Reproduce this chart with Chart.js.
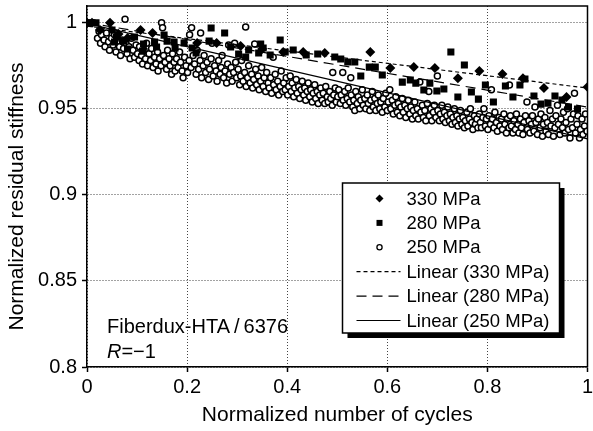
<!DOCTYPE html>
<html>
<head>
<meta charset="utf-8">
<script src="https://cdn.jsdelivr.net/npm/chart.js@4.4.1/dist/chart.umd.min.js"></script>
<style>
  html, body { margin: 0; padding: 0; background: #fff; overflow: hidden; }
  #wrap { width: 593px; height: 431px; position: relative; }
</style>
</head>
<body>
<div id="wrap"><canvas id="chart"></canvas></div>
<script>
// points: [normalized number of cycles, normalized residual stiffness]
var s330 = [
  [0, 1.0], [0.01, 1.0], [0.026, 0.9958], [0.046, 1.0], [0.063, 0.9934], [0.081, 0.9911],
  [0.107, 0.9958], [0.131, 0.994], [0.22, 0.9882], [0.259, 0.9882], [0.307, 0.9865],
  [0.35, 0.9847], [0.392, 0.983], [0.432, 0.983], [0.475, 0.9824], [0.566, 0.983],
  [0.606, 0.9737], [0.653, 0.9742], [0.695, 0.9737], [0.741, 0.9678], [0.784, 0.9719],
  [0.83, 0.9702], [0.871, 0.9678], [0.913, 0.962], [0.958, 0.9568], [1.0, 0.9626]
];
var s280 = [
  [0, 1.0], [0.01, 1.0], [0.018, 1.0], [0.05, 0.9958], [0.055, 0.9888], [0.059, 0.9917],
  [0.073, 0.9893], [0.081, 0.9847], [0.095, 0.9917], [0.111, 0.9835], [0.113, 0.9876],
  [0.135, 0.9888], [0.139, 0.9859], [0.154, 0.9928], [0.16, 0.9893], [0.174, 0.9888],
  [0.176, 0.9853], [0.194, 0.9882], [0.21, 0.9853], [0.218, 0.9824], [0.244, 0.9893],
  [0.248, 0.9969], [0.275, 0.994], [0.287, 0.9859], [0.303, 0.9818], [0.317, 0.9801],
  [0.323, 0.9841], [0.343, 0.9824], [0.347, 0.9876], [0.352, 0.9853], [0.366, 0.9812],
  [0.386, 0.9899], [0.396, 0.983], [0.412, 0.9841], [0.438, 0.9812], [0.461, 0.9818],
  [0.495, 0.9801], [0.507, 0.9789], [0.521, 0.9772], [0.535, 0.9772], [0.547, 0.969],
  [0.564, 0.9742], [0.576, 0.9742], [0.59, 0.9696], [0.63, 0.9655], [0.646, 0.9667],
  [0.657, 0.9649], [0.673, 0.9609], [0.685, 0.9649], [0.699, 0.9603], [0.713, 0.9615],
  [0.727, 0.983], [0.741, 0.9568], [0.754, 0.9754], [0.768, 0.9597], [0.782, 0.9556],
  [0.796, 0.9638], [0.812, 0.9539], [0.836, 0.9632], [0.851, 0.9568], [0.865, 0.9638],
  [0.875, 0.9673], [0.893, 0.9574], [0.907, 0.9527], [0.921, 0.9533], [0.935, 0.9574],
  [0.949, 0.9551], [0.962, 0.951], [0.98, 0.9499]
];
var s250 = [
  [0.021, 0.991], [0.024, 0.995], [0.027, 0.988], [0.029, 0.993], [0.034, 0.99], [0.036, 0.986],
  [0.039, 0.994], [0.043, 0.989], [0.045, 0.984], [0.049, 0.991], [0.052, 0.987], [0.055, 0.993],
  [0.058, 0.983], [0.06, 0.989], [0.065, 0.986], [0.067, 0.981], [0.07, 0.99], [0.073, 0.985],
  [0.076, 1.002], [0.078, 0.988], [0.08, 0.982], [0.084, 0.986], [0.086, 0.979], [0.089, 0.991],
  [0.092, 0.984], [0.095, 0.98], [0.098, 0.987],
  [0.101, 0.982], [0.104, 0.978], [0.105, 0.986], [0.109, 0.981], [0.111, 0.976], [0.114, 0.984],
  [0.117, 0.979], [0.119, 0.988], [0.121, 0.975], [0.124, 0.982], [0.127, 0.978], [0.129, 0.985],
  [0.132, 0.974], [0.135, 0.98], [0.138, 0.976], [0.141, 0.983], [0.142, 0.972], [0.145, 0.979],
  [0.148, 0.975], [0.149, 1.0], [0.151, 0.997], [0.153, 0.981], [0.156, 0.977], [0.159, 0.973],
  [0.161, 0.984], [0.164, 0.979], [0.166, 0.975], [0.169, 0.97], [0.171, 0.982], [0.174, 0.977],
  [0.176, 0.972], [0.179, 0.979], [0.182, 0.974], [0.185, 0.983], [0.187, 0.977], [0.19, 0.972],
  [0.192, 0.968], [0.195, 0.98], [0.198, 0.975],
  [0.201, 0.971], [0.204, 0.978], [0.205, 0.993], [0.208, 0.974], [0.209, 0.997], [0.212, 0.981],
  [0.215, 0.976], [0.218, 0.97], [0.22, 0.984], [0.223, 0.973], [0.226, 0.978], [0.227, 0.994],
  [0.229, 0.968], [0.232, 0.975], [0.234, 0.981], [0.237, 0.971], [0.24, 0.977], [0.243, 0.967],
  [0.245, 0.973], [0.248, 0.979], [0.25, 0.988], [0.252, 0.969], [0.255, 0.975], [0.258, 0.972],
  [0.26, 0.966], [0.263, 0.978], [0.266, 0.97], [0.268, 0.974], [0.27, 0.981], [0.273, 0.968],
  [0.276, 0.972], [0.279, 0.965], [0.281, 0.976], [0.283, 0.987], [0.285, 0.97], [0.288, 0.974],
  [0.29, 0.966], [0.293, 0.971], [0.295, 0.988], [0.297, 0.977], [0.299, 0.968],
  [0.302, 0.973], [0.305, 0.964], [0.307, 0.969], [0.309, 0.978], [0.312, 0.966], [0.315, 0.971],
  [0.317, 0.9975], [0.318, 0.963], [0.321, 0.968], [0.323, 0.975], [0.326, 0.965], [0.329, 0.97],
  [0.331, 0.962], [0.333, 0.967], [0.335, 0.9876], [0.337, 0.973], [0.339, 0.964], [0.342, 0.969],
  [0.344, 0.961], [0.347, 0.966], [0.349, 0.974], [0.352, 0.963], [0.354, 0.968], [0.357, 0.96],
  [0.359, 0.971], [0.362, 0.965], [0.364, 0.962], [0.367, 0.968], [0.369, 0.959], [0.372, 0.98],
  [0.373, 0.964], [0.376, 0.97], [0.378, 0.961], [0.381, 0.966], [0.383, 0.958], [0.386, 0.963],
  [0.388, 0.972], [0.391, 0.96], [0.393, 0.965], [0.396, 0.961], [0.398, 0.968],
  [0.401, 0.958], [0.403, 0.963], [0.406, 0.969], [0.408, 0.96], [0.41, 0.965], [0.413, 0.957],
  [0.415, 0.962], [0.418, 0.967], [0.42, 0.959], [0.423, 0.963], [0.425, 0.956], [0.428, 0.961],
  [0.43, 0.966], [0.433, 0.958], [0.435, 0.962], [0.437, 0.955], [0.44, 0.96], [0.442, 0.965],
  [0.445, 0.957], [0.447, 0.961], [0.45, 0.954], [0.452, 0.959], [0.455, 0.964], [0.457, 0.956],
  [0.46, 0.96], [0.462, 0.953], [0.465, 0.958], [0.467, 0.962], [0.47, 0.955], [0.472, 0.959],
  [0.475, 0.953], [0.477, 0.963], [0.48, 0.957], [0.482, 0.954], [0.485, 0.96], [0.487, 0.956],
  [0.49, 0.952], [0.491, 0.971], [0.493, 0.958], [0.496, 0.962], [0.498, 0.954],
  [0.501, 0.957], [0.503, 0.961], [0.506, 0.953], [0.508, 0.958], [0.511, 0.971], [0.512, 0.955],
  [0.515, 0.96], [0.517, 0.952], [0.52, 0.956], [0.522, 0.962], [0.525, 0.954], [0.527, 0.968],
  [0.528, 0.958], [0.531, 0.951], [0.533, 0.955], [0.535, 0.949], [0.537, 0.96], [0.54, 0.953],
  [0.542, 0.957], [0.545, 0.95], [0.547, 0.955], [0.55, 0.961], [0.552, 0.952], [0.555, 0.956],
  [0.557, 0.95], [0.56, 0.958], [0.562, 0.953], [0.565, 0.949], [0.567, 0.955], [0.57, 0.96],
  [0.572, 0.951], [0.575, 0.956], [0.577, 0.949], [0.58, 0.953], [0.582, 0.958], [0.585, 0.95],
  [0.587, 0.954], [0.59, 0.948], [0.592, 0.956], [0.595, 0.951], [0.597, 0.959],
  [0.6, 0.949], [0.602, 0.954], [0.605, 0.961], [0.607, 0.95], [0.61, 0.955], [0.612, 0.947],
  [0.615, 0.952], [0.617, 0.957], [0.62, 0.948], [0.622, 0.953], [0.625, 0.946], [0.627, 0.951],
  [0.63, 0.956], [0.632, 0.948], [0.635, 0.952], [0.637, 0.945], [0.64, 0.95], [0.642, 0.955],
  [0.645, 0.947], [0.647, 0.951], [0.65, 0.944], [0.652, 0.949], [0.655, 0.954], [0.657, 0.946],
  [0.66, 0.95], [0.662, 0.944], [0.665, 0.9655], [0.667, 0.948], [0.67, 0.952], [0.672, 0.945],
  [0.675, 0.949], [0.677, 0.943], [0.68, 0.953], [0.683, 0.96], [0.684, 0.946], [0.687, 0.95],
  [0.689, 0.943], [0.692, 0.948], [0.694, 0.952], [0.697, 0.945], [0.7, 0.969],
  [0.701, 0.949], [0.704, 0.943], [0.706, 0.947], [0.709, 0.952], [0.711, 0.944], [0.714, 0.948],
  [0.716, 0.942], [0.719, 0.946], [0.721, 0.951], [0.724, 0.943], [0.726, 0.947], [0.729, 0.941],
  [0.731, 0.945], [0.734, 0.95], [0.736, 0.942], [0.739, 0.946], [0.741, 0.94], [0.744, 0.944],
  [0.746, 0.949], [0.749, 0.941], [0.751, 0.945], [0.754, 0.939], [0.756, 0.943], [0.759, 0.948],
  [0.761, 0.94], [0.764, 0.944], [0.766, 0.95], [0.769, 0.942], [0.771, 0.938], [0.774, 0.946],
  [0.776, 0.941], [0.779, 0.944], [0.781, 0.939], [0.784, 0.947], [0.786, 0.942], [0.788, 0.939],
  [0.791, 0.945], [0.793, 0.95], [0.796, 0.94], [0.798, 0.944],
  [0.801, 0.938], [0.803, 0.946], [0.806, 0.941], [0.808, 0.961], [0.81, 0.944], [0.813, 0.939],
  [0.815, 0.948], [0.818, 0.942], [0.82, 0.937], [0.823, 0.945], [0.825, 0.94], [0.828, 0.944],
  [0.83, 0.938], [0.833, 0.947], [0.835, 0.941], [0.838, 0.936], [0.84, 0.944], [0.843, 0.939],
  [0.844, 0.9638], [0.846, 0.946], [0.848, 0.94], [0.851, 0.936], [0.853, 0.943], [0.856, 0.938],
  [0.858, 0.947], [0.861, 0.941], [0.863, 0.936], [0.866, 0.944], [0.868, 0.939], [0.871, 0.935],
  [0.873, 0.942], [0.876, 0.946], [0.879, 0.954], [0.88, 0.938], [0.883, 0.943], [0.885, 0.936],
  [0.888, 0.941], [0.89, 0.946], [0.893, 0.937], [0.895, 0.951], [0.897, 0.942],
  [0.9, 0.935], [0.902, 0.944], [0.905, 0.939], [0.907, 0.947], [0.91, 0.934], [0.912, 0.941],
  [0.915, 0.945], [0.917, 0.937], [0.92, 0.942], [0.922, 0.935], [0.925, 0.949], [0.927, 0.94],
  [0.93, 0.944], [0.932, 0.934], [0.935, 0.939], [0.937, 0.946], [0.94, 0.952], [0.942, 0.941],
  [0.945, 0.935], [0.947, 0.944], [0.95, 0.939], [0.952, 0.948], [0.955, 0.936], [0.957, 0.942],
  [0.96, 0.95], [0.962, 0.938], [0.965, 0.933], [0.967, 0.944], [0.97, 0.939], [0.972, 0.947],
  [0.974, 0.959], [0.976, 0.936], [0.979, 0.941], [0.981, 0.946], [0.984, 0.933], [0.986, 0.938],
  [0.989, 0.944], [0.991, 0.935], [0.994, 0.94], [0.996, 0.947], [0.999, 0.937]
];

// linear trend lines: value at x = 0 and at x = 1
var fitX = [0, 1];
var fit330 = [0.998, 0.962];
var fit280 = [1.0, 0.951];
var fit250 = [0.9995, 0.9325];

var xTicks = [0, 0.2, 0.4, 0.6, 0.8, 1];
var yTicks = [0.8, 0.85, 0.9, 0.95, 1];

var FONT = '"Liberation Sans", Arial, Helvetica, sans-serif';

function pts(arr) {
  return arr.map(function (p) { return { x: p[0], y: p[1] }; });
}
function line(ys) {
  return fitX.map(function (x, i) { return { x: x, y: ys[i] }; });
}
function fmt(v) {
  return String(Math.round(v * 100) / 100);
}

var datasets = [
  { label: '330 MPa', data: pts(s330), pointStyle: 'rectRot', pointRadius: 5,
    backgroundColor: '#000', borderColor: '#000', borderWidth: 0, order: 1 },
  { label: '280 MPa', data: pts(s280), pointStyle: 'rect', pointRadius: 5,
    backgroundColor: '#000', borderColor: '#000', borderWidth: 0, order: 1 },
  { label: '250 MPa', data: pts(s250), pointStyle: 'circle', pointRadius: 3,
    backgroundColor: '#fff', borderColor: '#000', borderWidth: 1.5, order: 1 },
  { label: 'Linear (330 MPa)', data: line(fit330), showLine: true, pointRadius: 0,
    borderColor: '#000', borderWidth: 1.2, borderDash: [4, 3], order: 0 },
  { label: 'Linear (280 MPa)', data: line(fit280), showLine: true, pointRadius: 0,
    borderColor: '#000', borderWidth: 1.2, borderDash: [10, 6], order: 0 },
  { label: 'Linear (250 MPa)', data: line(fit250), showLine: true, pointRadius: 0,
    borderColor: '#000', borderWidth: 1.2, order: 0 }
];

// frame, y title, text note and boxed legend drawn on top of the chart
var extras = {
  id: 'extras',
  afterDraw: function (chart) {
    var ctx = chart.ctx, a = chart.chartArea;
    ctx.save();
    ctx.strokeStyle = '#000';
    ctx.lineWidth = 1.5;
    ctx.beginPath();
    ctx.moveTo(a.left, a.top);
    ctx.lineTo(a.right, a.top);
    ctx.lineTo(a.right, a.bottom);
    ctx.stroke();

    // y axis title
    ctx.save();
    ctx.translate(17, a.top + (a.bottom - a.top) / 2 + 10);
    ctx.rotate(-Math.PI / 2);
    ctx.fillStyle = '#000';
    ctx.font = '21px ' + FONT;
    ctx.textAlign = 'center';
    ctx.textBaseline = 'middle';
    ctx.fillText('Normalized residual stiffness', 0, 0);
    ctx.restore();

    // note
    ctx.fillStyle = '#000';
    ctx.textBaseline = 'alphabetic';
    ctx.textAlign = 'left';
    ctx.font = '20px ' + FONT;
    ctx.fillText('Fiberdux-HTA\u2009/\u20096376', a.left + 20, a.bottom - 34);
    ctx.font = 'italic 20px ' + FONT;
    ctx.fillText('R', a.left + 20, a.bottom - 9);
    var rw = ctx.measureText('R').width;
    ctx.font = '20px ' + FONT;
    ctx.fillText('=\u22121', a.left + 20 + rw, a.bottom - 9);

    // legend box with drop shadow
    var bw = 217, bh = 150;
    var bx = a.right - 28 - bw, by = a.bottom - 34 - bh;
    ctx.fillStyle = '#000';
    ctx.fillRect(bx + 5, by + 5, bw, bh);
    ctx.fillStyle = '#fff';
    ctx.fillRect(bx, by, bw, bh);
    ctx.lineWidth = 1.5;
    ctx.strokeRect(bx, by, bw, bh);

    ctx.font = '18.5px ' + FONT;
    ctx.textBaseline = 'middle';
    var mx = bx + 37, tx = bx + 64;
    chart.data.datasets.forEach(function (ds, i) {
      var y = by + 15.5 + i * 24.4;
      ctx.fillStyle = '#000';
      ctx.strokeStyle = '#000';
      if (ds.showLine) {
        ctx.lineWidth = ds.borderWidth;
        ctx.setLineDash(ds.borderDash || []);
        ctx.beginPath();
        ctx.moveTo(mx - 23, y);
        ctx.lineTo(mx + 21, y);
        ctx.stroke();
        ctx.setLineDash([]);
      } else if (ds.pointStyle === 'rectRot') {
        ctx.beginPath();
        ctx.moveTo(mx, y - 4);
        ctx.lineTo(mx + 4, y);
        ctx.lineTo(mx, y + 4);
        ctx.lineTo(mx - 4, y);
        ctx.closePath();
        ctx.fill();
      } else if (ds.pointStyle === 'rect') {
        ctx.fillRect(mx - 3, y - 3, 6, 6);
      } else {
        ctx.lineWidth = 1.3;
        ctx.fillStyle = '#fff';
        ctx.beginPath();
        ctx.arc(mx, y, 2.6, 0, Math.PI * 2);
        ctx.fill();
        ctx.stroke();
        ctx.fillStyle = '#000';
      }
      ctx.fillText(ds.label, tx, y + 1);
    });
    ctx.restore();
  }
};

new Chart(document.getElementById('chart'), {
  type: 'scatter',
  data: { datasets: datasets },
  options: {
    responsive: true,
    maintainAspectRatio: false,
    animation: false,
    events: [],
    layout: { padding: { top: 6, right: 1, left: 0, bottom: 0 } },
    plugins: { legend: { display: false }, tooltip: { enabled: false } },
    scales: {
      x: {
        type: 'linear', min: 0, max: 1,
        afterBuildTicks: function (s) { s.ticks = xTicks.map(function (v) { return { value: v }; }); },
        afterFit: function (s) { s.height = 64; s.paddingRight = 0; },
        ticks: { color: '#000', font: { family: FONT, size: 20 }, padding: 3, maxRotation: 0,
                 callback: function (v) { return fmt(v); } },
        grid: { color: '#444', lineWidth: 1, tickColor: '#000', tickLength: 5, tickWidth: 1.5 },
        border: { color: '#000', width: 1.5, dash: [1, 2] },
        title: { display: true, text: 'Normalized number of cycles', color: '#000',
                 font: { family: FONT, size: 21 }, padding: { top: 0, bottom: 3 } }
      },
      y: {
        type: 'linear', min: 0.8, max: 1.0097,
        afterBuildTicks: function (s) { s.ticks = yTicks.map(function (v) { return { value: v }; }); },
        afterFit: function (s) { s.width = 87; s.paddingTop = 0; s.paddingBottom = 0; },
        ticks: { color: '#000', font: { family: FONT, size: 20 }, padding: 5,
                 callback: function (v) { return fmt(v); } },
        grid: { color: '#444', lineWidth: 1, tickColor: '#000', tickLength: 5, tickWidth: 1.5 },
        border: { color: '#000', width: 1.5, dash: [1, 2] },
        title: { display: false }
      }
    }
  },
  plugins: [extras]
});
</script>
</body>
</html>
